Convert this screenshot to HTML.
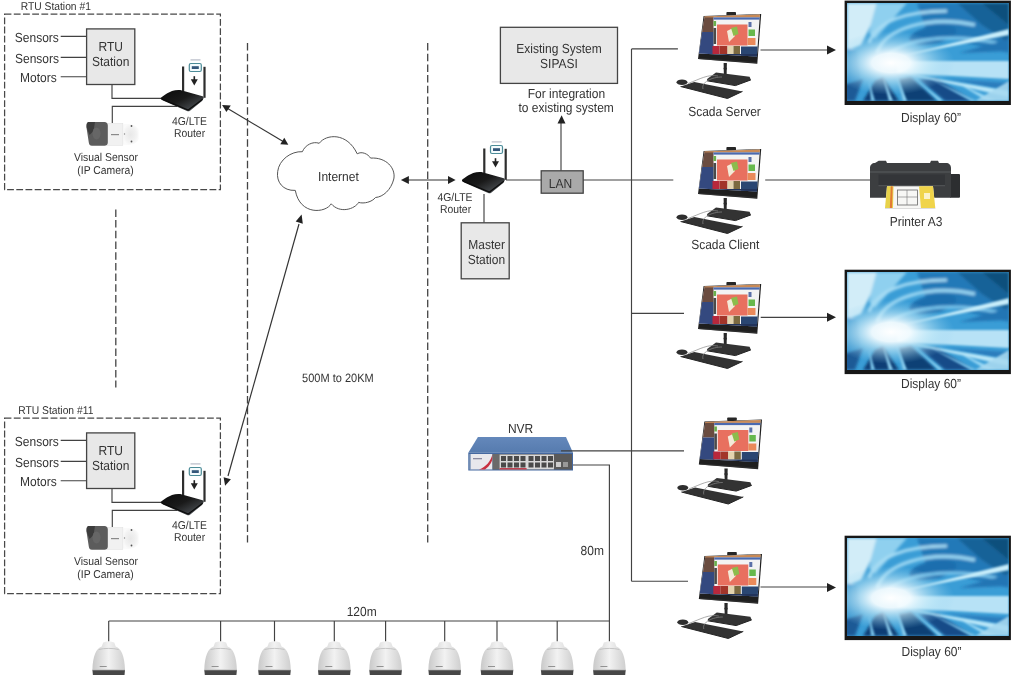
<!DOCTYPE html>
<html><head><meta charset="utf-8">
<style>
html,body{margin:0;padding:0;background:#fff;}
body{width:1018px;height:675px;overflow:hidden;}
svg{display:block;will-change:transform;}
text{font-family:"Liberation Sans",sans-serif;fill:#333;transform-box:fill-box;transform-origin:50% 82%;transform:translateY(0.7px) scaleY(1.1);text-rendering:geometricPrecision;}
</style></head>
<body>
<svg width="1018" height="675" viewBox="0 0 1018 675">
<defs>
  <!-- small router -->
  <linearGradient id="rg" x1="0.1" y1="0.1" x2="0.9" y2="0.9">
    <stop offset="0" stop-color="#0e0e0e"/>
    <stop offset="0.45" stop-color="#1a1a1a"/>
    <stop offset="1" stop-color="#50555a"/>
  </linearGradient>
  <g id="router">
    <rect x="182" y="66.5" width="2.2" height="25" fill="#2e2e2e"/>
    <rect x="203.4" y="66.8" width="2.2" height="31" fill="#2e2e2e"/>
    <path d="M160.9,97.7 C163,96 168,92.5 172,91 C175,90 179,89.8 182,90.4 L202.6,96.2 C203.6,96.5 203.9,97.5 203.4,98.8 L202,100.9 L190,110.8 C189,111.5 188,111.5 187,111.1 L163,100.4 C161,99.6 160.3,98.6 160.9,97.7 Z" fill="url(#rg)"/>
    <path d="M161.8,98.9 L188.2,110 L202.6,99.3" stroke="#0c0c0c" stroke-width="1.1" fill="none"/>
    <rect x="189.3" y="63.5" width="12" height="8" rx="1.5" fill="#f4fbfd" stroke="#4c8c98" stroke-width="1.2"/>
    <rect x="191.8" y="66.2" width="7" height="2.8" fill="#35577a"/>
    <rect x="190.5" y="59.3" width="10" height="1.2" fill="#b8bcc8"/>
    <rect x="193.5" y="76.2" width="1.6" height="4" fill="#222"/>
    <path d="M190.8,79.3 L197.8,79.3 L194.3,85.6 Z" fill="#222"/>
  </g>
  <!-- bullet camera -->
  <radialGradient id="mountg" cx="0.5" cy="0.5" r="0.5">
    <stop offset="0" stop-color="#e8e8e8"/>
    <stop offset="0.7" stop-color="#f2f2f2"/>
    <stop offset="1" stop-color="#fafafa"/>
  </radialGradient>
  <g id="bcam">
    <path d="M122.5,124.5 C130,123 137,125 138.7,130 L138.7,139 C137,144 130,146 122.5,144.5 Z" fill="url(#mountg)"/>
    <circle cx="131.5" cy="126" r="0.9" fill="#555"/>
    <circle cx="131.5" cy="141.5" r="0.9" fill="#555"/>
    <circle cx="124.5" cy="134" r="0.7" fill="#888"/>
    <rect x="107" y="123.6" width="15.8" height="21.7" fill="#f1f1f1" stroke="#e2e2e2" stroke-width="0.6"/>
    <rect x="111" y="134" width="8" height="1.2" fill="#8a8a8a"/>
    <path d="M89,122.1 L104.5,122.1 C106.5,122.1 107.8,123.5 107.8,125.5 L107.8,142.5 C107.8,144.5 106.5,145.8 104.5,145.8 L92,145.8 C90,145.8 89,144.5 88.8,142.5 L86.4,127 C86.2,124 87,122.1 89,122.1 Z" fill="#5c5c5c"/>
    <path d="M89,122.1 L95,122.1 L93.5,131 L89.5,135 L86.8,128 C86.4,124.5 87,122.1 89,122.1 Z" fill="#3c3c3c"/>
    <ellipse cx="96.5" cy="133.5" rx="4" ry="6" fill="#666"/>
  </g>
  <!-- monitor -->
  <clipPath id="scr"><path d="M704.5,16.6 L759.9,14.6 L756.9,56.4 L698.9,53.6 Z"/></clipPath>
  <g id="mon">
    <rect x="726.4" y="12" width="9.6" height="3.5" rx="0.8" fill="#262626"/>
    <path d="M703.6,16 L761.2,13.9 L757.3,63.7 L698,59 Z" fill="#1f1f1f"/>
    <g clip-path="url(#scr)">
      <rect x="690" y="10" width="80" height="50" fill="#f3f3f3"/>
      <rect x="690" y="10" width="23.5" height="22" fill="#6a4c40"/>
      <rect x="690" y="32" width="23.5" height="30" fill="#34497f"/>
      <rect x="690" y="10" width="80" height="7.4" fill="#c98a56"/>
      <rect x="713.5" y="17.4" width="47" height="2.2" fill="#4a6ab0"/>
      <rect x="713.5" y="21" width="2.6" height="5" fill="#6ab04c"/>
      <rect x="713.5" y="28" width="2.6" height="16" fill="#4a4a4a"/>
      <rect x="717" y="24.5" width="30.5" height="21" fill="#e8705f"/>
      <path d="M727,31 L733,28 L735,36 L729,42 Z" fill="#f4ead8"/>
      <path d="M731,28 L737,26.5 L738.5,34 L733.5,36 Z" fill="#8cbc4c"/>
      <rect x="748.5" y="22" width="3" height="5" fill="#5a70a8"/>
      <rect x="748.5" y="29.5" width="6.5" height="6.5" fill="#66b84c"/>
      <rect x="747.5" y="38" width="8" height="7" fill="#ea8a5a"/>
      <rect x="712.5" y="46" width="7" height="8" fill="#b8283c"/>
      <rect x="719.5" y="46" width="8" height="8" fill="#a2352a"/>
      <rect x="727.5" y="46" width="6" height="8" fill="#e4d4ae"/>
      <rect x="733.5" y="46" width="6.5" height="8" fill="#7c6a40"/>
      <rect x="741" y="46.5" width="20" height="14" fill="#2a4672"/>
      <rect x="690" y="54" width="80" height="7" fill="#22345c"/>
    </g>
    <path d="M699,58.6 L757,62.8" stroke="#3a3a3a" stroke-width="0.7"/>
    <path d="M723.6,63 L726.9,63 L726.6,76 L723.9,76 Z" fill="#2a2a2a"/>
    <circle cx="725.2" cy="68.5" r="1.6" fill="#2a2a2a"/>
    <path d="M707.1,79 L716,72.4 L749.6,76.8 L750.9,79.9 L735.4,85.6 L707.1,80.8 Z" fill="#333"/>
    <path d="M707.1,80.8 L735.4,85.6 L750.9,79.9" stroke="#222" stroke-width="1" fill="none"/>
    <path d="M680.6,86.5 L694.3,82.1 L742.5,91.4 L727.5,98.5 Z" fill="#323232"/>
    <path d="M680.6,86.5 L727.5,98.5 L742.5,91.4" stroke="#242424" stroke-width="1" fill="none"/>
    <ellipse cx="682" cy="82.2" rx="5.5" ry="2.8" fill="#2e2e2e"/>
    <path d="M688,83.5 C700,79 708,74 718,76" stroke="#888" stroke-width="0.7" fill="none"/>
    <path d="M703,89 C701,82 712,77 722,77" stroke="#888" stroke-width="0.7" fill="none"/>
  </g>
  <!-- display -->
  <filter id="bl" x="-20%" y="-20%" width="140%" height="140%"><feGaussianBlur stdDeviation="1.6"/></filter>
  <filter id="bl2" x="-20%" y="-20%" width="140%" height="140%"><feGaussianBlur stdDeviation="1"/></filter>
  <radialGradient id="wg" cx="0" cy="0" r="1" gradientUnits="userSpaceOnUse" gradientTransform="translate(44,60) scale(64,32)">
    <stop offset="0" stop-color="#fff" stop-opacity="1"/>
    <stop offset="0.3" stop-color="#f4fcff" stop-opacity="0.95"/>
    <stop offset="0.65" stop-color="#c0e9f8" stop-opacity="0.5"/>
    <stop offset="1" stop-color="#8fd0f0" stop-opacity="0"/>
  </radialGradient>
  <clipPath id="sc"><rect x="0" y="0" width="161.8" height="98.1"/></clipPath>
  <g id="disp">
    <rect x="-2.4" y="-2.3" width="166.3" height="104.4" fill="#171717"/>
    <g clip-path="url(#sc)">
      <rect x="0" y="0" width="162" height="98" fill="#3a9dd6"/>
      <g filter="url(#bl)">
        <path d="M70,0 L162,0 L162,50 L120,40 L80,30 Z" fill="#2279b8"/>
        <path d="M110,0 L162,0 L162,40 L135,22 Z" fill="#176298"/>
        <path d="M135,0 L162,0 L162,22 Z" fill="#10507c"/>
        <path d="M0,0 L30,0 L24,22 L14,42 L0,48 Z" fill="#d2edf8"/>
        <path d="M30,0 L60,0 L44,18 L28,36 L22,30 Z" fill="#8fd0ef"/>
        <ellipse cx="86" cy="32" rx="24" ry="9" transform="rotate(-12 86 32)" fill="#1c6eae"/>
        <path d="M30,50 C38,26 80,12 128,22" stroke="#9ad6f2" stroke-width="3.5" fill="none"/>
        <path d="M22,40 C30,18 60,8 100,8" stroke="#a8ddf4" stroke-width="3" fill="none"/>
        <path d="M40,52 C60,36 100,30 150,40" stroke="#7cc8ee" stroke-width="3" fill="none"/>
        <path d="M-5,44 L10,48 L14,76 L-5,80 Z" fill="#3090cc"/>
        <path d="M-5,82 L16,76 L8,98 L-5,98 Z" fill="#1a5a96"/>
        <path d="M16,98 L28,78 L36,74 L52,98 Z" fill="#0f3e74"/>
        <path d="M58,98 L52,76 L64,74 L90,98 Z" fill="#103f74"/>
        <path d="M98,98 L72,76 L90,76 L126,98 Z" fill="#154c88"/>
        <path d="M162,80 L100,76 L162,88 Z" fill="#2a7cbc"/>
        <path d="M162,36 L112,50 L162,48 Z" fill="#2274b4"/>
      </g>
      <g filter="url(#bl2)">
        <path d="M50,54 L162,26 L162,32 Z" fill="#c8eefb"/>
        <path d="M50,58 L162,58 L162,76 L50,70 Z" fill="#cdeefb" opacity="0.85"/>
        <path d="M55,70 L162,88 L162,94 Z" fill="#b8e6f8"/>
        <path d="M110,80 L150,98 L140,98 Z" fill="#9ad8f4"/>
        <path d="M128,98 L162,78 L162,98 Z" fill="#a6d8f0" opacity="0.9"/>
        <path d="M36,74 L46,98 L42,98 Z" fill="#8fd2f2"/>
        <path d="M50,74 L60,98 L56,98 Z" fill="#8fd2f2"/>
        <path d="M66,74 L96,98 L92,98 Z" fill="#8fd2f2"/>
        <path d="M80,74 L130,98 L124,98 Z" fill="#7cc6ec"/>
        <path d="M22,78 L28,98 L24,98 Z" fill="#7cc6ec"/>
      </g>
      <ellipse cx="44" cy="60" rx="64" ry="32" fill="url(#wg)"/>
    </g>
  </g>
  <!-- dome camera -->
  <linearGradient id="domeg" x1="0" y1="0" x2="1" y2="0">
    <stop offset="0" stop-color="#c9c9c9"/>
    <stop offset="0.5" stop-color="#f2f2f2"/>
    <stop offset="1" stop-color="#cfcfcf"/>
  </linearGradient>
  <g id="dome">
    <path d="M-5.5,642.5 C-3,641 3,641 5.5,642.5 L7,646.5 C12.5,648.5 16,656 16.3,670 L-16.3,670 C-16,656 -12.5,648.5 -7,646.5 Z" fill="url(#domeg)"/>
    <path d="M-10,649.5 C-4,648 4,648 10,649.5" stroke="#bbb" stroke-width="0.8" fill="none"/>
    <path d="M-16.3,670 L16.3,670 L15.8,675 L-15.8,675 Z" fill="#474747"/>
    <path d="M-16.3,669.8 L16.3,669.8" stroke="#c4c4c4" stroke-width="0.9"/>
    <rect x="-9" y="666" width="7" height="0.9" fill="#8a8a8a"/>
  </g>
</defs>

<!-- ===== RTU #1 ===== -->
<g id="rtu1">
  <rect x="4.6" y="14" width="215.8" height="175.7" fill="none" stroke="#484848" stroke-width="1.25" stroke-dasharray="6.8 2.4"/>
  <g stroke="#424242" stroke-width="1.15" fill="none">
    <path d="M60.7,36.3 H86.6 M60.7,57.4 H86.6 M60.7,76.7 H86.6"/>
    <path d="M112,84.5 V98.4 H161"/>
    <path d="M112.3,123 V106.3 H177"/>
  </g>
  <rect x="86.6" y="28.9" width="48.2" height="55.6" fill="#e8e8e8" stroke="#444" stroke-width="1.3"/>
  <text x="14.8" y="41.5" font-size="12">Sensors</text>
  <text x="15" y="62.5" font-size="12">Sensors</text>
  <text x="20" y="81.4" font-size="12">Motors</text>
  <text x="110.7" y="50.8" font-size="12" text-anchor="middle">RTU</text>
  <text x="110.7" y="65.6" font-size="12" text-anchor="middle">Station</text>
  <use href="#router"/>
  <use href="#bcam"/>
  <text x="189.5" y="124" font-size="10.4" text-anchor="middle">4G/LTE</text>
  <text x="189.5" y="136" font-size="10.4" text-anchor="middle">Router</text>
  <text x="106" y="160.7" font-size="10.4" text-anchor="middle">Visual Sensor</text>
  <text x="105.5" y="173" font-size="10.4" text-anchor="middle">(IP Camera)</text>
</g>
<text x="20.7" y="9.6" font-size="10.3">RTU Station #1</text>
<use href="#rtu1" transform="translate(0,404)"/>
<rect x="0" y="400" width="100" height="16" fill="#fff"/>
<text x="18.2" y="413.8" font-size="10.3">RTU Station #11</text>

<!-- dashed verticals -->
<g stroke="#444" stroke-width="1.3" stroke-dasharray="7.5 3.2" fill="none">
  <path d="M247.5,43 V542.6"/>
  <path d="M427.7,43 V542.6"/>
  <path d="M115.8,209.4 V387.5"/>
</g>

<!-- arrows -->
<g stroke="#333" stroke-width="1.2" fill="none">
  <path d="M226,107.5 L284,142"/>
  <path d="M228,476 L299,224"/>
  <path d="M408,180 H448"/>
</g>
<g fill="#222">
  <path d="M222.1,105 L230.8,105.5 L226.4,112 Z"/>
  <path d="M288.3,144.8 L280.3,144.3 L284.3,137.7 Z"/>
  <path d="M301.6,214.6 L295.7,221.4 L302.8,223.7 Z"/>
  <path d="M225.1,485.8 L223.6,477.2 L230.9,479.3 Z"/>
  <path d="M400.9,180 L408.9,176 L408.9,184 Z"/>
  <path d="M455.6,180 L448,176 L448,184 Z"/>
</g>

<!-- cloud -->
<path d="M295.3,190.4 C283,191 276,182 277.7,171.4 C279,160 291,151 302.4,151.7 C305,145 313,141 319.2,143.3 C326,134 347,132 357.2,153.8 C362,151 368,154 370.6,158.1 C386,157 396,168 393.8,179 C391,190 383,197 375.5,197.5 C372,202 364,204 358.6,202.4 C355,209 340,214 331.2,203.8 C326,213 300,216 295.3,190.4 Z" fill="#fff" stroke="#555" stroke-width="1"/>
<text x="338.4" y="180.6" font-size="12" text-anchor="middle">Internet</text>

<text x="302.1" y="381" font-size="11">500M to 20KM</text>

<!-- center -->
<g stroke="#424242" stroke-width="1.15" fill="none">
  <path d="M506,180 H673.3"/>
  <path d="M484,194 V222.8"/>
  <path d="M561,170.8 V123"/>
  <path d="M631.5,48.9 V581.2"/>
  <path d="M631.5,48.9 H677.9"/>
  <path d="M631.5,313.3 H684"/>
  <path d="M631.5,581.2 H688"/>
  <path d="M572.4,465 H609.4 V641.5"/>
  <path d="M108.7,621 H609.4"/>
  <path d="M760.5,50 H828"/>
  <path d="M765.2,180 H870"/>
  <path d="M760.7,317.3 H828"/>
  <path d="M760.5,587 H828"/>
</g>
<g fill="#222">
  <path d="M561.6,115.2 L557.5,123.5 L565.5,123.5 Z"/>
  <path d="M836,50 L827,45.5 L827,54.5 Z"/>
  <path d="M836,317.3 L827,312.8 L827,321.8 Z"/>
  <path d="M836,587.5 L827,583 L827,592 Z"/>
</g>
<use href="#router" transform="translate(301.2,82)"/>
<text x="455" y="200.5" font-size="10.4" text-anchor="middle">4G/LTE</text>
<text x="455.5" y="212.5" font-size="10.4" text-anchor="middle">Router</text>

<rect x="500.4" y="27.3" width="117.1" height="56.1" fill="#e8e8e8" stroke="#444" stroke-width="1.3"/>
<text x="559" y="52.7" font-size="12" text-anchor="middle">Existing System</text>
<text x="559" y="67" font-size="12" text-anchor="middle">SIPASI</text>
<text x="566.4" y="97.7" font-size="12" text-anchor="middle">For integration</text>
<text x="566.2" y="111.7" font-size="12" text-anchor="middle">to existing system</text>

<rect x="541.2" y="170.8" width="42" height="22.4" fill="#a9a9a9" stroke="#444" stroke-width="1.3"/>
<text x="560.5" y="187.5" font-size="12" text-anchor="middle">LAN</text>

<rect x="461.2" y="222.8" width="48" height="56" fill="#e8e8e8" stroke="#444" stroke-width="1.3"/>
<text x="486.6" y="248.8" font-size="12" text-anchor="middle">Master</text>
<text x="486.4" y="263.2" font-size="12" text-anchor="middle">Station</text>

<!-- NVR -->
<g>
  <linearGradient id="nvrg" x1="0" y1="0" x2="0" y2="1"><stop offset="0" stop-color="#6488bb"/><stop offset="1" stop-color="#567bae"/></linearGradient>
  <path d="M477.9,437 L566,437 L573,452.7 L468.3,452.7 Z" fill="url(#nvrg)"/>
  <rect x="468.3" y="452.7" width="104.7" height="17.8" fill="#4468a0"/>
  <rect x="469.5" y="454" width="23" height="15.5" fill="#e8e8ec"/>
  <path d="M492.5,454 C491,461 486,467 479,469.5 L485,469.5 C490,466 492.5,461 492.5,458 Z" fill="#c83040"/>
  <rect x="473" y="458" width="9" height="1.3" fill="#8a8aa0"/>
  <rect x="469.5" y="454" width="1" height="15.5" fill="#4a6ea0"/>
  <rect x="492.5" y="454" width="61.4" height="15.5" fill="#6a6a6a"/>
  <rect x="499.6" y="454.6" width="54.3" height="14.7" fill="#d8d8d8"/>
  <rect x="499.6" y="468" width="27" height="1.5" fill="#c04050"/>
  <g fill="#4a4a4a">
    <rect x="501" y="456" width="5" height="5"/><rect x="507.5" y="456" width="5" height="5"/><rect x="514" y="456" width="5" height="5"/><rect x="520.5" y="456" width="5" height="5"/>
    <rect x="528.5" y="456" width="5" height="5"/><rect x="535" y="456" width="5" height="5"/><rect x="541.5" y="456" width="5" height="5"/><rect x="548" y="456" width="5" height="5"/>
    <rect x="501" y="462.5" width="5" height="5"/><rect x="507.5" y="462.5" width="5" height="5"/><rect x="514" y="462.5" width="5" height="5"/><rect x="520.5" y="462.5" width="5" height="5"/>
    <rect x="528.5" y="462.5" width="5" height="5"/><rect x="535" y="462.5" width="5" height="5"/><rect x="541.5" y="462.5" width="5" height="5"/><rect x="548" y="462.5" width="5" height="5"/>
  </g>
  <rect x="554" y="454" width="18" height="15.5" fill="#5a5a5a"/>
  <rect x="556" y="462" width="5" height="5" fill="#ccc"/>
  <rect x="563" y="462" width="5" height="5" fill="#999"/>
</g>
<path d="M561,450.8 H684" stroke="#424242" stroke-width="1.15"/>
<text x="520.6" y="431.9" font-size="12" text-anchor="middle">NVR</text>
<text x="580.6" y="554" font-size="12">80m</text>
<text x="346.7" y="615.6" font-size="12">120m</text>

<!-- monitors -->
<use href="#mon"/>
<use href="#mon" transform="translate(0,135)"/>
<use href="#mon" transform="translate(0,270)"/>
<use href="#mon" transform="translate(0.8,405.5)"/>
<use href="#mon" transform="translate(0.8,540)"/>
<text x="724.5" y="115.3" font-size="12" text-anchor="middle">Scada Server</text>
<text x="725.2" y="248.4" font-size="12" text-anchor="middle">Scada Client</text>

<!-- displays -->
<use href="#disp" transform="translate(847,2.9)"/>
<use href="#disp" transform="translate(847,272)"/>
<use href="#disp" transform="translate(847,538)"/>
<text x="931" y="121.3" font-size="12" text-anchor="middle">Display 60”</text>
<text x="931" y="387.7" font-size="12" text-anchor="middle">Display 60”</text>
<text x="931.5" y="655.6" font-size="12" text-anchor="middle">Display 60”</text>

<!-- printer -->
<g>
  <rect x="950" y="174" width="10" height="23.7" rx="1" fill="#2c2e30"/>
  <path d="M878.7,160.8 L886,160.8 L887,163 L930,163 L931,160.8 L938,160.8 L939,163 L946,163 C949,163 951,165 951,168 L951,197.7 L870,197.7 L870,168 C870,165 872,163 875,163 Z" fill="#3c3e40"/>
  <rect x="870" y="171.5" width="81" height="1" fill="#595c5e"/>
  <rect x="878.5" y="174.5" width="66.5" height="11" fill="#333538"/>
  <rect x="878.5" y="185.2" width="66.5" height="1" fill="#55585a"/>
  <path d="M887,186.3 L933,186.3 L935.3,208.3 L885,208.3 Z" fill="#f7f7f5"/>
  <path d="M887,186.3 L893.5,186.3 L893,208.3 L885,208.3 Z" fill="#e8d24a"/>
  <path d="M890.8,186.3 L892.6,186.3 L892,208.3 L889.8,208.3 Z" fill="#e27a36"/>
  <path d="M919,186.3 L933,186.3 L935.3,208.3 L921,208.3 Z" fill="#f0d44a"/>
  <rect x="924" y="193" width="6" height="6" fill="#fbf2c8"/>
  <rect x="897.5" y="190" width="20" height="15" fill="none" stroke="#666" stroke-width="0.8"/>
  <path d="M907,190 V205 M897.5,197 H917.5" stroke="#777" stroke-width="0.6"/>
  <rect x="885" y="208" width="50.3" height="1" fill="#ddd"/>
</g>
<text x="916" y="225.3" font-size="12" text-anchor="middle">Printer A3</text>

<!-- dome cameras -->
<g stroke="#424242" stroke-width="1.15">
  <path d="M108.7,621 V641.5 M220.6,621 V641.5 M274.5,621 V641.5 M334.3,621 V641.5 M385.6,621 V641.5 M444.7,621 V641.5 M497,621 V641.5 M557.2,621 V641.5"/>
</g>
<use href="#dome" transform="translate(108.7,0)"/>
<use href="#dome" transform="translate(220.6,0)"/>
<use href="#dome" transform="translate(274.5,0)"/>
<use href="#dome" transform="translate(334.3,0)"/>
<use href="#dome" transform="translate(385.6,0)"/>
<use href="#dome" transform="translate(444.7,0)"/>
<use href="#dome" transform="translate(497,0)"/>
<use href="#dome" transform="translate(557.2,0)"/>
<use href="#dome" transform="translate(609.4,0)"/>
</svg>
</body></html>
